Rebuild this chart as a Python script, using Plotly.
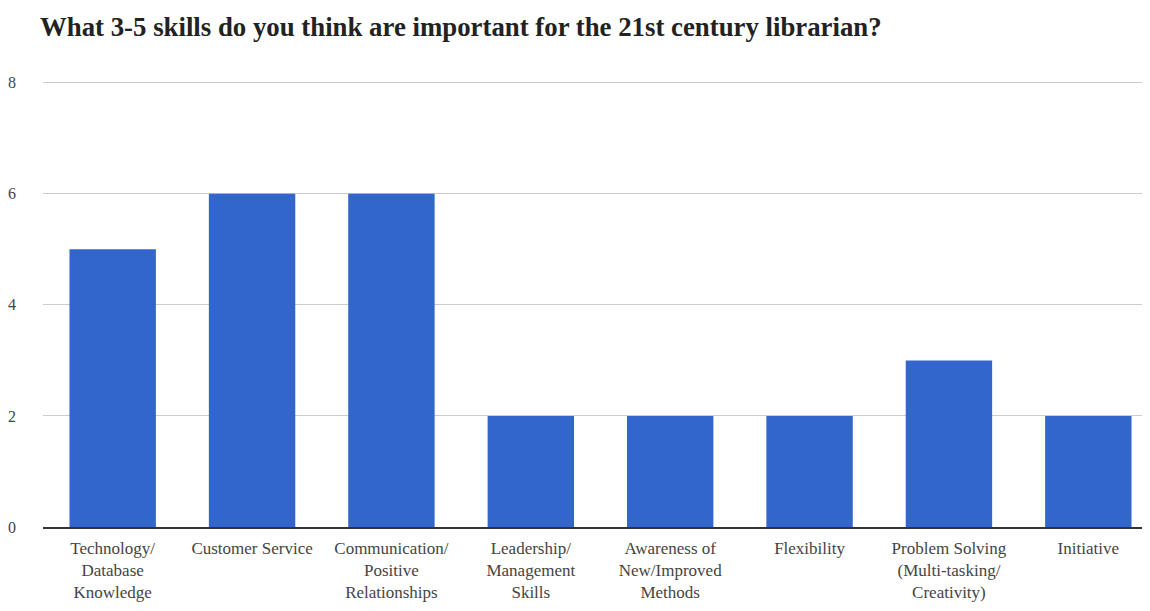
import plotly.graph_objects as go

categories = [
    "Technology/<br>Database<br>Knowledge",
    "Customer Service",
    "Communication/<br>Positive<br>Relationships",
    "Leadership/<br>Management<br>Skills",
    "Awareness of<br>New/Improved<br>Methods",
    "Flexibility",
    "Problem Solving<br>(Multi-tasking/<br>Creativity)",
    "Initiative",
]
counts = [5, 6, 6, 2, 2, 2, 3, 2]
y_ticks = [0, 2, 4, 6, 8]

SERIF = "Liberation Serif, DejaVu Serif, serif"

fig = go.Figure(
    go.Bar(x=categories, y=counts, marker=dict(color="#3366cc", line=dict(width=0)),
           hoverinfo="x+y")
)

fig.update_layout(
    width=1150, height=611,
    paper_bgcolor="white", plot_bgcolor="white",
    margin=dict(l=31, r=0, t=72, b=92),
    bargap=0.38,
    showlegend=False,
    title=dict(
        text="<b>What 3-5 skills do you think are important for the 21st century librarian?</b>",
        x=32 / 1150, xanchor="left", y=1 - 19 / 611, yanchor="middle",
        font=dict(family=SERIF, size=26.8, color="#222222"),
    ),
    font=dict(family=SERIF, size=16, color="#444444"),
)

fig.update_xaxes(
    showgrid=False, showline=True, linecolor="#333333", linewidth=1.5,
    ticks="", tickangle=0, ticklabelstandoff=5,
    tickfont=dict(family=SERIF, size=17, color="#444444"),
)
fig.update_yaxes(
    range=[0, 8.05], tickvals=y_ticks, showgrid=True, gridcolor="#cccccc", gridwidth=1,
    zeroline=False, showline=False, ticks="",
    ticklabelstandoff=26,
    tickfont=dict(family=SERIF, size=16, color="#444444"),
)

fig.write_html("out.html")
